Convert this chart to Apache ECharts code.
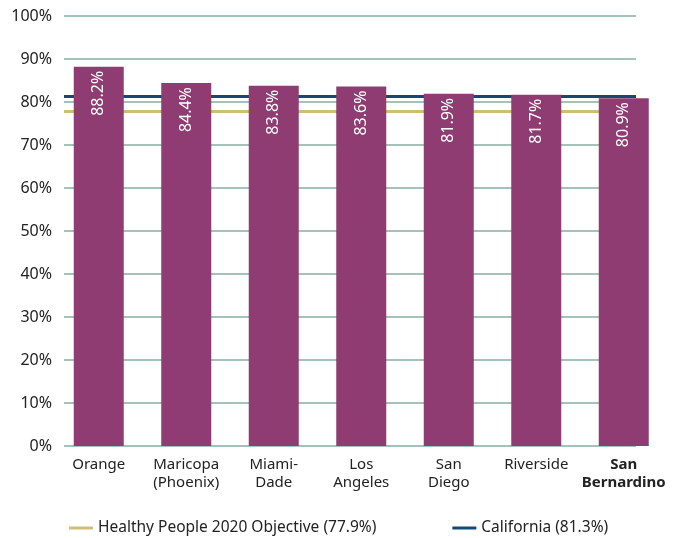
<!DOCTYPE html>
<html>
<head>
<meta charset="utf-8">
<script src="https://cdn.jsdelivr.net/npm/echarts@6/dist/echarts.min.js"></script>
<style>
  html, body { margin: 0; padding: 0; background: #fff; }
  #chart { width: 684px; height: 538px; }
</style>
</head>
<body>
<div id="chart"></div>
<script>
var categories = ["Orange", "Maricopa\n(Phoenix)", "Miami-\nDade", "Los\nAngeles", "San\nDiego", "Riverside", "San\nBernardino"];
var rates = [88.2, 84.4, 83.8, 83.6, 81.9, 81.7, 80.9];
var healthyPeople = 77.9;
var california = 81.3;
var yTicks = [0, 100, 10];

var font = "Noto Sans";
var myChart = echarts.init(document.getElementById("chart"));

var option = {
  textStyle: { fontFamily: font },
  animation: false,
  grid: [
    // gridlines + reference lines
    { left: 64, right: 48, top: 16, bottom: 92 },
    // bars
    { left: 55, right: 16.5, top: 16, bottom: 92 },
  ],
  legend: {
    top: 515,
    left: 64,
    icon: "rect",
    itemWidth: 24,
    itemHeight: 3,
    itemGap: 76,
    textStyle: { fontSize: 15.5, color: "#222", fontFamily: font },
    data: ["Healthy People 2020 Objective (77.9%)", "California (81.3%)"],
  },
  xAxis: [
    { type: "value", gridIndex: 0, min: 0, max: 1, show: false },
    {
      type: "category",
      gridIndex: 1,
      data: categories,
      axisLine: { show: false },
      axisTick: { show: false },
      axisLabel: {
        margin: 10,
        fontSize: 15,
        lineHeight: 18,
        color: "#222",
        interval: 0,
        formatter: function (value, index) {
          if (index === categories.length - 1) {
            return value.split("\n").map(function (s) { return "{b|" + s + "}"; }).join("\n");
          }
          return value;
        },
        rich: {
          b: { fontWeight: "bold", fontSize: 15, lineHeight: 18, color: "#222" },
        },
      },
    },
  ],
  yAxis: [
    {
      type: "value",
      gridIndex: 0,
      min: yTicks[0],
      max: yTicks[1],
      interval: yTicks[2],
      axisLine: { show: false },
      axisTick: { show: false },
      axisLabel: { formatter: "{value}%", fontSize: 16, color: "#222", margin: 12 },
      splitLine: { lineStyle: { color: "#86AE9F", width: 1.5 } },
    },
    {
      type: "value",
      gridIndex: 1,
      min: yTicks[0],
      max: yTicks[1],
      show: false,
    },
  ],
  series: [
    {
      name: "Healthy People 2020 Objective (77.9%)",
      type: "line",
      xAxisIndex: 0,
      yAxisIndex: 0,
      data: [],
      z: 1,
      color: "#CDBF78",
      markLine: {
        z: 1,
        silent: true,
        symbol: "none",
        label: { show: false },
        lineStyle: { color: "#CDBF78", width: 3, type: "solid" },
        data: [{ yAxis: healthyPeople }],
      },
    },
    {
      name: "California (81.3%)",
      type: "line",
      xAxisIndex: 0,
      yAxisIndex: 0,
      data: [],
      z: 1,
      color: "#124A73",
      markLine: {
        z: 1,
        silent: true,
        symbol: "none",
        label: { show: false },
        lineStyle: { color: "#124A73", width: 3, type: "solid" },
        data: [{ yAxis: california }],
      },
    },
    {
      name: "Rate",
      type: "bar",
      xAxisIndex: 1,
      yAxisIndex: 1,
      data: rates,
      barWidth: 50,
      z: 10,
      color: "#8E3C72",
      label: {
        show: true,
        position: "insideTop",
        rotate: 90,
        align: "right",
        verticalAlign: "middle",
        distance: 4,
        color: "#fff",
        fontSize: 16,
        formatter: function (d) {
          return d.value.toFixed(1) + "%";
        },
      },
    },
  ],
};

myChart.setOption(option);
</script>
</body>
</html>
